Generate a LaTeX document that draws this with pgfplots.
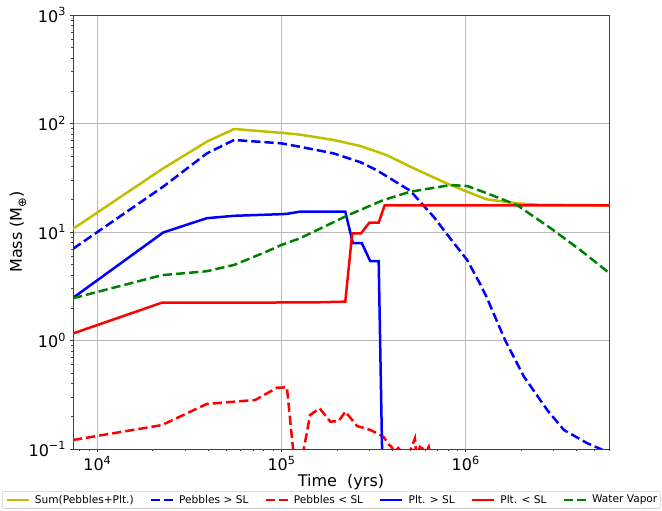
\documentclass[border=0pt]{standalone}
\usepackage{fontspec}
\setmainfont{DejaVu Sans}
\usepackage{pgfplots}
\pgfplotsset{compat=1.18}
\definecolor{myyellow}{rgb}{0.75,0.75,0}
\definecolor{mygreen}{rgb}{0,0.5,0}
\begin{document}
\begin{tikzpicture}
\begin{axis}[
  scale only axis, width=536pt, height=434pt,
  xmode=log, ymode=log,
  xmin=7380, xmax=6.0e6, ymin=0.1, ymax=1000,
  xtick={1e4,1e5,1e6},
  xticklabels={10\textsuperscript{4},10\textsuperscript{5},10\textsuperscript{6}},
  ytick={0.1,1,10,100,1000},
  yticklabels={10\textsuperscript{−1},10\textsuperscript{0},10\textsuperscript{1},10\textsuperscript{2},10\textsuperscript{3}},
  minor xtick={8e3,9e3,2e4,3e4,4e4,5e4,6e4,7e4,8e4,9e4,2e5,3e5,4e5,5e5,6e5,7e5,8e5,9e5,2e6,3e6,4e6,5e6,6e6},
  minor ytick={0.2,0.3,0.4,0.5,0.6,0.7,0.8,0.9,2,3,4,5,6,7,8,9,20,30,40,50,60,70,80,90,200,300,400,500,600,700,800,900},
  tick pos=left, tick align=outside,
  major tick length=3.5pt, minor tick length=2pt,
  every tick/.style={black!75, line width=0.8pt},
  minor tick style={line width=0.6pt},
  axis line style={black!75, line width=0.8pt},
  xmajorgrids, ymajorgrids,
  major grid style={black!28, line width=0.8pt},
  tick label style={font=\fontsize{16}{19}\selectfont},
  label style={font=\fontsize{16}{19}\selectfont},
  xlabel={Time\ \ (yrs)},
  ylabel={Mass (M\raisebox{-0.28em}{\fontsize{11.5}{13}\selectfont ⊕})},
  xlabel style={at={(axis description cs:0.5,-0.076)}, anchor=center},
  ylabel style={at={(axis description cs:-0.1026,0.5)}, anchor=center},
  legend style={
    at={(0.482,-0.0968)}, anchor=north,
    font=\fontsize{10.6}{12.5}\selectfont,
    nodes={font=\fontsize{10.6}{12.5}\selectfont, inner xsep=0pt, inner ysep=1.8pt},
    draw=black!20, rounded corners=2pt, line width=0.6pt,
    inner xsep=3pt, inner ysep=2pt,
    /tikz/every odd column/.append style={column sep=5pt},
    /tikz/every even column/.append style={column sep=16pt},
  },
  legend columns=6,
  legend cell align=left,
  legend image code/.code={\draw[#1] (0pt,0pt) -- (22pt,0pt);},
  every axis plot/.append style={line width=2.5pt},
]
\addplot[myyellow, solid] coordinates {
(7380,10.7) (2.28e4,38.6) (3.93e4,68) (5.53e4,89) (1e5,82) (1.26e5,79) (1.92e5,70.5) (2.68e5,62) (3.74e5,51) (5e5,40) (7.9e5,28) (1.02e6,23.5) (1.3e6,20) (1.9e6,18.4) (2.5e6,17.8) (6e6,17.6)
};
\addlegendentry{Sum(Pebbles+Plt.)}
\addplot[blue, dash pattern=on 9.25pt off 4pt] coordinates {
(7380,7.0) (2.28e4,26.2) (3.93e4,53) (5.53e4,70.5) (1e5,65.6) (1.26e5,61) (1.92e5,53) (2.68e5,44) (3.3e5,37) (5e5,24) (6.7e5,13.8) (8.3e5,8.6) (1.02e6,5.5) (1.2e6,3.3) (1.3e6,2.5) (1.64e6,1.0) (2.07e6,0.465) (2.77e6,0.229) (3.41e6,0.150) (4.57e6,0.113) (5.4e6,0.1) (5.6e6,0.097)
};
\addlegendentry{Pebbles > SL}
\addplot[red, dash pattern=on 9.25pt off 4pt] coordinates {
(7380,0.121) (2.24e4,0.166) (3.93e4,0.26) (7.2e4,0.283) (9.45e4,0.367) (1.07e5,0.37) (1.19e5,0.06) (1.25e5,0.06) (1.43e5,0.206) (1.61e5,0.237) (1.84e5,0.179) (2.04e5,0.18) (2.22e5,0.221) (2.57e5,0.163) (3.03e5,0.15) (3.43e5,0.135) (3.6e5,0.128) (3.82e5,0.11) (3.95e5,0.105) (4.1e5,0.092) (4.3e5,0.102) (4.6e5,0.09) (5.0e5,0.097) (5.3e5,0.125) (5.4e5,0.085) (5.7e5,0.11) (6.0e5,0.09) (6.3e5,0.105) (6.5e5,0.085)
};
\addlegendentry{Pebbles < SL}
\addplot[blue, solid] coordinates {
(7380,2.47) (2.28e4,9.9) (3.93e4,13.4) (5.53e4,14.1) (1e5,14.6) (1.07e5,14.7) (1.26e5,15.4) (2.22e5,15.4) (2.44e5,7.9) (2.73e5,7.9) (3.03e5,5.4) (3.37e5,5.4) (3.52e5,0.09)
};
\addlegendentry{Plt. > SL}
\addplot[red, solid] coordinates {
(7380,1.16) (2.24e4,2.23) (1.0e5,2.24) (1.6e5,2.25) (2.22e5,2.28) (2.42e5,9.7) (2.70e5,9.7) (3.0e5,12.2) (3.37e5,12.2) (3.63e5,17.6) (6e6,17.6)
};
\addlegendentry{Plt. < SL}
\addplot[mygreen, dash pattern=on 9.25pt off 4pt] coordinates {
(7380,2.45) (2.24e4,4.0) (3.93e4,4.35) (5.53e4,4.97) (8.3e4,6.6) (1e5,7.6) (1.26e5,8.75) (2.3e5,14.3) (3.58e5,19.7) (5e5,23.5) (8.3e5,27.1) (1.02e6,26.5) (1.3e6,22.8) (1.9e6,17.7) (2.9e6,10.8) (4.2e6,6.8) (6e6,4.2)
};
\addlegendentry{Water Vapor}
\coordinate (tl) at (rel axis cs:0,1);
\coordinate (br) at (rel axis cs:1,0);
\end{axis}
\pgfresetboundingbox
\path[use as bounding box] ([xshift=-73pt,yshift=15pt]tl) rectangle ([xshift=53pt,yshift=-62pt]br);
\end{tikzpicture}
\end{document}
